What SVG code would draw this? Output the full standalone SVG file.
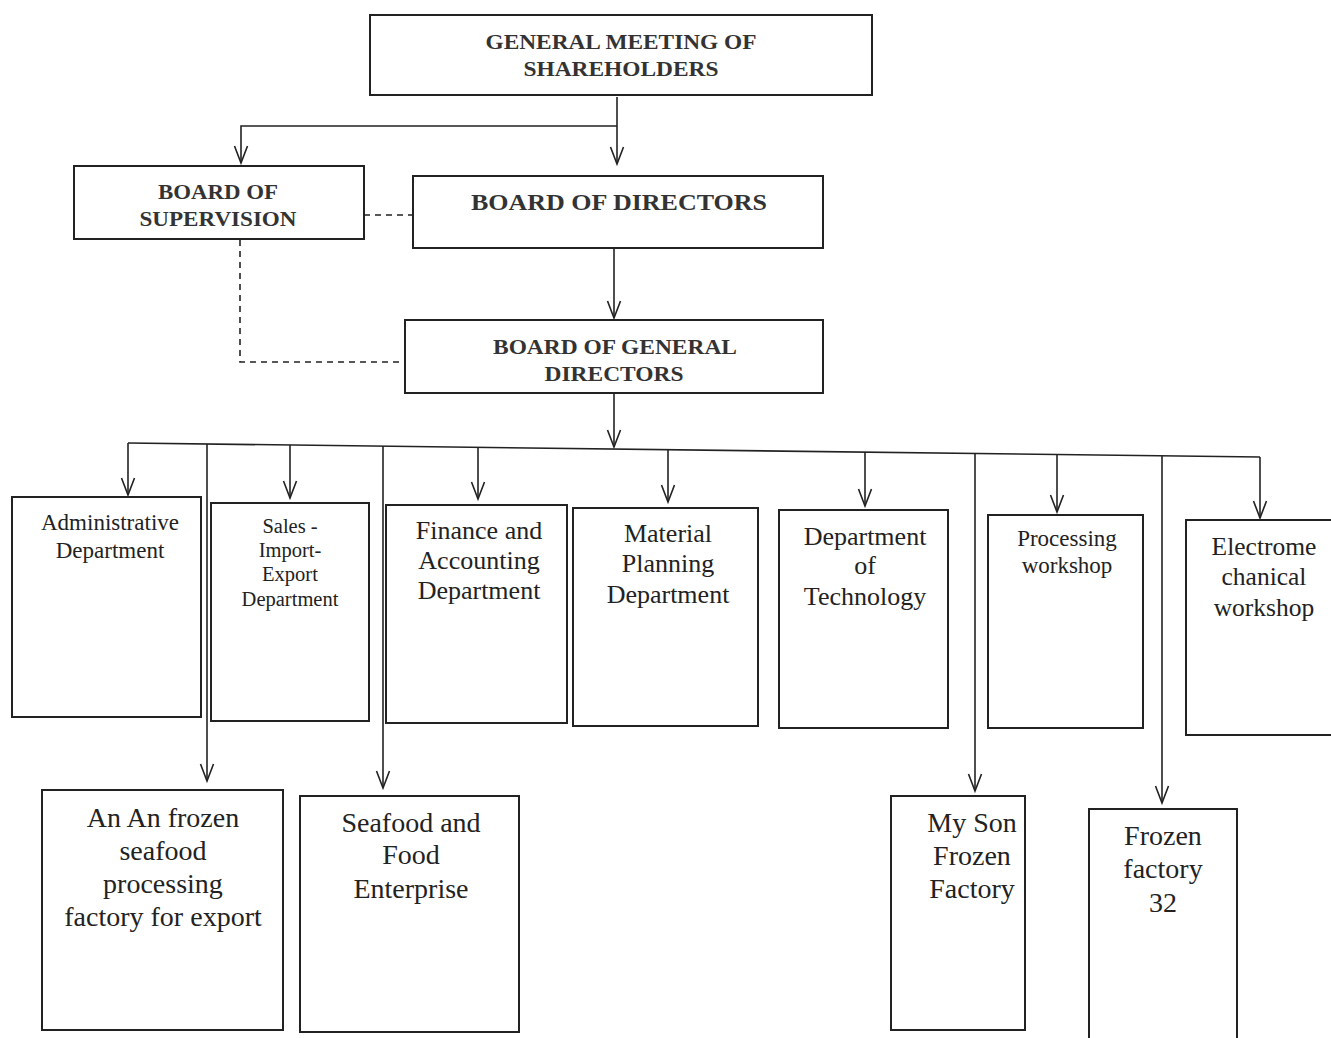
<svg xmlns="http://www.w3.org/2000/svg" width="1331" height="1038" viewBox="0 0 1331 1038">
<style>
.box{fill:#fff;stroke:#222;stroke-width:2}
.ln{fill:none;stroke:#222;stroke-width:1.6}
.dash{fill:none;stroke:#222;stroke-width:1.6;stroke-dasharray:6,5}
.h{font-family:"Liberation Serif",serif;font-weight:bold;fill:#333;text-anchor:middle}
.t{font-family:"Liberation Serif",serif;fill:#222;text-anchor:middle}
</style>
<defs>
<marker id="arr" markerUnits="userSpaceOnUse" markerWidth="24" markerHeight="24" viewBox="-20 -10 24 20" refX="0" refY="0" orient="auto">
<path d="M-17,-6.5 L0,0 L-17,6.5" fill="none" stroke="#222" stroke-width="1.6"/>
</marker>
</defs>
<rect width="1331" height="1038" fill="#fff"/>
<g id="connectors">
<path class="ln" d="M617,97 V164" marker-end="url(#arr)"/>
<path class="ln" d="M617,126 H241 V163" marker-end="url(#arr)"/>
<path class="dash" d="M364,215 H413"/>
<path class="dash" d="M240,240 V362 H405"/>
<path class="ln" d="M614,248 V318" marker-end="url(#arr)"/>
<path class="ln" d="M614,393 V447" marker-end="url(#arr)"/>
<path class="ln" d="M128,443 L1260,457"/>
<path class="ln" d="M128,443 V495" marker-end="url(#arr)"/>
<path class="ln" d="M290,445 V498" marker-end="url(#arr)"/>
<path class="ln" d="M478,447.3 V499" marker-end="url(#arr)"/>
<path class="ln" d="M668,449.7 V502" marker-end="url(#arr)"/>
<path class="ln" d="M865,452 V506" marker-end="url(#arr)"/>
<path class="ln" d="M1057,454.5 V512" marker-end="url(#arr)"/>
<path class="ln" d="M1260,457 V518" marker-end="url(#arr)"/>
<path class="ln" d="M207,444 V781" marker-end="url(#arr)"/>
<path class="ln" d="M383,446 V788" marker-end="url(#arr)"/>
<path class="ln" d="M975,453.5 V791" marker-end="url(#arr)"/>
<path class="ln" d="M1162,455.8 V803" marker-end="url(#arr)"/>
</g>
<g id="gms">
<rect class="box" x="370" y="15" width="502" height="80"/>
<text class="h" x="621" y="49" font-size="21" textLength="271" lengthAdjust="spacingAndGlyphs">GENERAL MEETING OF</text>
<text class="h" x="621" y="76" font-size="21" textLength="195" lengthAdjust="spacingAndGlyphs">SHAREHOLDERS</text>
</g>
<g id="supervision">
<rect class="box" x="74" y="166" width="290" height="73"/>
<text class="h" x="218" y="199" font-size="21" textLength="120" lengthAdjust="spacingAndGlyphs">BOARD OF</text>
<text class="h" x="218" y="226" font-size="21" textLength="157" lengthAdjust="spacingAndGlyphs">SUPERVISION</text>
</g>
<g id="directors">
<rect class="box" x="413" y="176" width="410" height="72"/>
<text class="h" x="619" y="210" font-size="24" textLength="296" lengthAdjust="spacingAndGlyphs">BOARD OF DIRECTORS</text>
</g>
<g id="general-directors">
<rect class="box" x="405" y="320" width="418" height="73"/>
<text class="h" x="615" y="354" font-size="21" textLength="244" lengthAdjust="spacingAndGlyphs">BOARD OF GENERAL</text>
<text class="h" x="614" y="381" font-size="21" textLength="139" lengthAdjust="spacingAndGlyphs">DIRECTORS</text>
</g>
<g id="admin">
<rect class="box" x="12" y="497" width="189" height="220"/>
<text class="t" x="110" y="530" font-size="23">Administrative</text>
<text class="t" x="110" y="558" font-size="23">Department</text>
</g>
<g id="sales">
<rect class="box" x="211" y="503" width="158" height="218"/>
<text class="t" x="290" y="533" font-size="20.5">Sales -</text>
<text class="t" x="290" y="557" font-size="20.5">Import-</text>
<text class="t" x="290" y="581" font-size="20.5">Export</text>
<text class="t" x="290" y="606" font-size="20.5">Department</text>
</g>
<g id="finance">
<rect class="box" x="386" y="505" width="181" height="218"/>
<text class="t" x="479" y="539" font-size="26">Finance and</text>
<text class="t" x="479" y="569" font-size="26">Accounting</text>
<text class="t" x="479" y="599" font-size="26">Department</text>
</g>
<g id="material">
<rect class="box" x="573" y="508" width="185" height="218"/>
<text class="t" x="668" y="542" font-size="26">Material</text>
<text class="t" x="668" y="572" font-size="26">Planning</text>
<text class="t" x="668" y="603" font-size="26">Department</text>
</g>
<g id="technology">
<rect class="box" x="779" y="510" width="169" height="218"/>
<text class="t" x="865" y="545" font-size="26">Department</text>
<text class="t" x="865" y="574" font-size="26">of</text>
<text class="t" x="865" y="605" font-size="26">Technology</text>
</g>
<g id="processing">
<rect class="box" x="988" y="515" width="155" height="213"/>
<text class="t" x="1067" y="546" font-size="23">Processing</text>
<text class="t" x="1067" y="573" font-size="23">workshop</text>
</g>
<g id="electro">
<rect class="box" x="1186" y="520" width="150" height="215"/>
<text class="t" x="1264" y="555" font-size="25.5">Electrome</text>
<text class="t" x="1264" y="585" font-size="25.5">chanical</text>
<text class="t" x="1264" y="616" font-size="25.5">workshop</text>
</g>
<g id="anan">
<rect class="box" x="42" y="790" width="241" height="240"/>
<text class="t" x="163" y="827" font-size="28">An An frozen</text>
<text class="t" x="163" y="860" font-size="28">seafood</text>
<text class="t" x="163" y="893" font-size="28">processing</text>
<text class="t" x="163" y="926" font-size="28">factory for export</text>
</g>
<g id="seafood">
<rect class="box" x="300" y="796" width="219" height="236"/>
<text class="t" x="411" y="832" font-size="28">Seafood and</text>
<text class="t" x="411" y="864" font-size="28">Food</text>
<text class="t" x="411" y="898" font-size="28">Enterprise</text>
</g>
<g id="myson">
<rect class="box" x="891" y="796" width="134" height="234"/>
<text class="t" x="972" y="832" font-size="28">My Son</text>
<text class="t" x="972" y="865" font-size="28">Frozen</text>
<text class="t" x="972" y="898" font-size="28">Factory</text>
</g>
<g id="frozen32">
<rect class="box" x="1089" y="809" width="148" height="240"/>
<text class="t" x="1163" y="845" font-size="28">Frozen</text>
<text class="t" x="1163" y="878" font-size="28">factory</text>
<text class="t" x="1163" y="912" font-size="28">32</text>
</g>
</svg>
